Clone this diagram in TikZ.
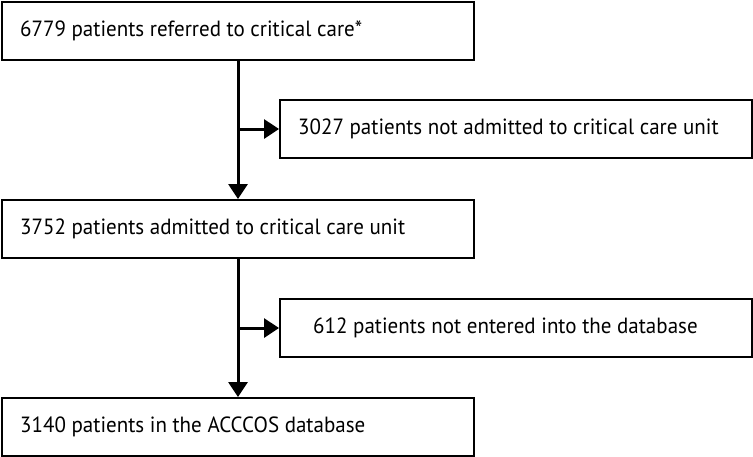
\documentclass[tikz,border=0pt]{standalone}
\usepackage{fontspec}
\setmainfont[FakeStretch=0.955]{PT Sans}
\usetikzlibrary{arrows.meta}
\begin{document}
\begin{tikzpicture}[x=1pt,y=-1pt,
  box/.style={draw=black,line width=2pt,minimum height=58pt,inner sep=0pt,anchor=north west},
  txt/.style={anchor=west,inner sep=0pt,font=\fontsize{22}{25}\selectfont},
  conn/.style={line width=3pt,-{Triangle[width=19pt,length=15pt]}}]
\useasboundingbox (0,0) rectangle (753,456);
\node[box,minimum width=472pt] (b1) at (1,1) {};
\node[box,minimum width=472pt] (b2) at (279,99) {};
\node[box,minimum width=472pt] (b3) at (1,199) {};
\node[box,minimum width=472pt] (b4) at (279,298) {};
\node[box,minimum width=472pt] (b5) at (1,397) {};
\node[txt] (t1) at ([xshift=19pt]b1.west) {6779 patients referred to critical care*};
\node[txt] (t2) at ([xshift=19pt]b2.west) {3027 patients not admitted to critical care unit};
\node[txt] (t3) at ([xshift=19pt]b3.west) {3752 patients admitted to critical care unit};
\node[txt] (t4) at ([xshift=34pt]b4.west) {612 patients not entered into the database};
\node[txt] (t5) at ([xshift=19pt]b5.west) {3140 patients in the ACCCOS database};
\coordinate (j1) at (b1.south |- b2.west);
\coordinate (j2) at (b3.south |- b4.west);
\draw[conn] (b1.south) -- (b3.north);
\draw[conn] (j1) -- (b2.west);
\draw[conn] (b3.south) -- (b5.north);
\draw[conn] (j2) -- (b4.west);
\end{tikzpicture}
\end{document}
